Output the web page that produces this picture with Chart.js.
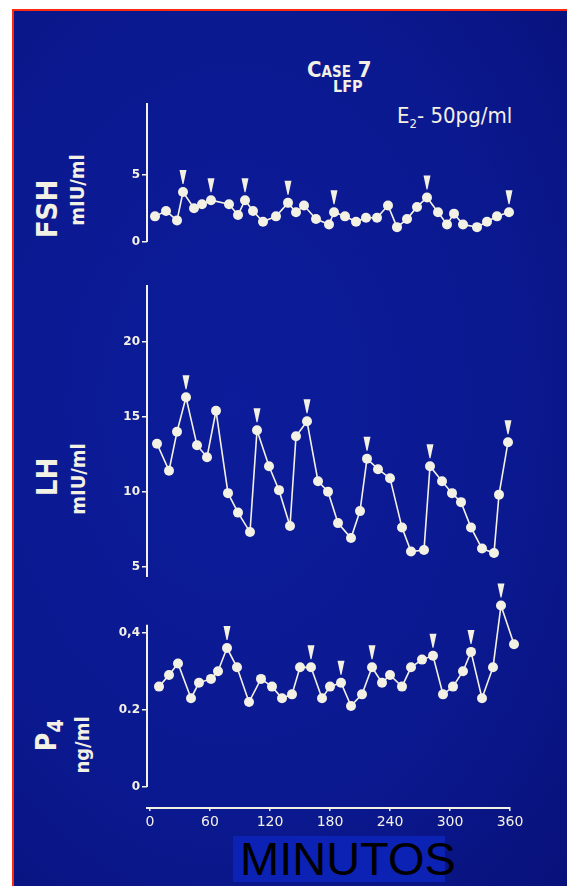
<!DOCTYPE html>
<html>
<head>
<meta charset="utf-8">
<script src="https://cdn.jsdelivr.net/npm/chart.js@4/dist/chart.umd.min.js"></script>
<style>
    html, body { margin: 0; padding: 0; background: #fff; }
    #page { position: relative; width: 567px; height: 886px; overflow: hidden; background: #fff; }
    #slide {
        position: absolute; left: 12px; top: 9px; right: 0; bottom: 0;
        border-top: 2px solid #ff2a10; border-left: 2px solid #ff2a10;
        background: radial-gradient(ellipse at 40% 45%, #0c1c9a 0%, #0b1990 60%, #08117a 100%);
    }
    canvas { position: absolute; left: 0; }
    .txt { position: absolute; color: #f3f0e4; font-family: "DejaVu Sans Condensed", "DejaVu Sans", sans-serif; font-weight: bold; white-space: nowrap; line-height: 1; }
    .rot { transform: translate(-50%, -50%) rotate(-90deg); }
    #minutos { position: absolute; left: 233px; top: 836px; width: 212px; height: 46px; background: #0b22b4; }
    #minutos span { position: absolute; left: 7px; top: 0px; font: 47px "Liberation Sans", Arial, sans-serif; color: #000; line-height: 46px; }
</style>
</head>
<body>
<div id="page">
    <div id="slide"></div>
    <div class="txt" style="left:307px; top:59px; font-size:22px; font-variant:small-caps;">Case 7</div>
    <div class="txt" style="left:333px; top:79px; font-size:16px;">LFP</div>
    <div class="txt" style="left:397px; top:105px; font-size:22px; font-weight:normal;">E<sub style="font-size:13px">2</sub>- 50pg/ml</div>

    <div class="txt rot" style="left:47px; top:209px; font-size:29px;">FSH</div>
    <div class="txt rot" style="left:77px; top:190px; font-size:20px;">mIU/ml</div>
    <div class="txt rot" style="left:47px; top:477px; font-size:29px;">LH</div>
    <div class="txt rot" style="left:78px; top:479px; font-size:20px;">mIU/ml</div>
    <div class="txt rot" style="left:50px; top:735px; font-size:28px;">P<sub style="font-size:22px">4</sub></div>
    <div class="txt rot" style="left:82px; top:745px; font-size:20px;">ng/ml</div>

    <canvas id="fsh" width="567" height="185" style="top:93px"></canvas>
    <canvas id="lh" width="567" height="338" style="top:275px"></canvas>
    <canvas id="p4" width="567" height="262" style="top:570px"></canvas>

    <div id="minutos"><span>MINUTOS</span></div>
</div>
<script>
    // sampling times (minutes) and values
    var fshMin = [5, 16, 27, 33, 44, 52, 61, 79, 88, 95, 103, 113, 126, 138, 146, 154, 166, 179, 184, 195, 206, 216, 227, 238, 247, 257, 267, 277, 288, 297, 304, 313, 327, 337, 347, 359]
    var fshVal = [1.9, 2.3, 1.6, 3.7, 2.5, 2.8, 3.1, 2.8, 2.0, 3.1, 2.3, 1.5, 1.9, 2.9, 2.2, 2.7, 1.7, 1.3, 2.2, 1.9, 1.5, 1.8, 1.8, 2.7, 1.1, 1.7, 2.6, 3.3, 2.2, 1.3, 2.1, 1.3, 1.1, 1.5, 1.9, 2.2]
    var fshPulse = [3, 6, 9, 13, 18, 27, 35]

    var lhMin = [7, 19, 27, 36, 47, 57, 66, 78, 88, 100, 107, 119, 129, 140, 146, 157, 168, 178, 188, 201, 210, 217, 228, 240, 252, 261, 274, 280, 292, 302, 311, 321, 332, 344, 349, 358]
    var lhVal = [13.2, 11.4, 14.0, 16.3, 13.1, 12.3, 15.4, 9.9, 8.6, 7.3, 14.1, 11.7, 10.1, 7.7, 13.7, 14.7, 10.7, 10.0, 7.9, 6.9, 8.7, 12.2, 11.5, 10.9, 7.6, 6.0, 6.1, 11.7, 10.7, 9.9, 9.3, 7.6, 6.2, 5.9, 9.8, 13.3]
    var lhPulse = [3, 10, 15, 21, 27, 35]

    var p4Min = [9, 19, 28, 41, 49, 61, 68, 77, 87, 99, 111, 122, 132, 142, 150, 161, 172, 180, 191, 201, 212, 222, 232, 240, 252, 261, 272, 283, 293, 303, 313, 321, 332, 343, 351, 364]
    var p4Val = [0.26, 0.29, 0.32, 0.23, 0.27, 0.28, 0.30, 0.36, 0.31, 0.22, 0.28, 0.26, 0.23, 0.24, 0.31, 0.31, 0.23, 0.26, 0.27, 0.21, 0.24, 0.31, 0.27, 0.29, 0.26, 0.31, 0.33, 0.34, 0.24, 0.26, 0.30, 0.35, 0.23, 0.31, 0.47, 0.37]
    var p4Pulse = [7, 15, 18, 21, 27, 31, 34]

    // tick labels
    var xTicks = [0, 60, 120, 180, 240, 300, 360]
    var fshTicks = [0, 5]
    var lhTicks = [5, 10, 15, 20]
    var p4Ticks = [0, 0.2, 0.4]
    var p4TickLabels = ['0', '0.2', '0,4']

    var ink = '#f3f0e4'

    // white axis line drawn only over part of the value range
    var axisLine = {
        id: 'axisLine',
        afterDraw(chart, args, opts) {
            var { ctx, chartArea } = chart
            var y = chart.scales.y
            ctx.save()
            ctx.strokeStyle = ink
            ctx.lineWidth = 2
            ctx.beginPath()
            ctx.moveTo(chartArea.left, y.getPixelForValue(opts.from))
            ctx.lineTo(chartArea.left, y.getPixelForValue(opts.to))
            ctx.stroke()
            ctx.restore()
        }
    }

    // little wedges above the detected pulses
    var pulseMarks = {
        id: 'pulseMarks',
        afterDatasetsDraw(chart, args, opts) {
            var { ctx } = chart
            var meta = chart.getDatasetMeta(0)
            ctx.save()
            ctx.fillStyle = ink
            opts.index.forEach(function(i) {
                var p = meta.data[i]
                ctx.beginPath()
                ctx.moveTo(p.x - 3.5, p.y - 22)
                ctx.lineTo(p.x + 3.5, p.y - 22)
                ctx.lineTo(p.x + 0.5, p.y - 8)
                ctx.lineTo(p.x - 0.5, p.y - 8)
                ctx.closePath()
                ctx.fill()
            })
            ctx.restore()
        }
    }

    function points(mins, vals) {
        return mins.map(function(m, i) { return { x: m, y: vals[i] } })
    }

    function makeChart(id, o) {
        var el = document.getElementById(id)
        var chart = {
            type: 'line',
            data: {
                datasets: [
                    {
                        data: points(o.mins, o.vals),
                        borderColor: ink,
                        borderWidth: 1.6,
                        pointRadius: 5,
                        pointBackgroundColor: ink,
                        pointBorderWidth: 0,
                        tension: 0,
                        clip: false
                    }
                ]
            },
            options: {
                animation: false,
                responsive: false,
                events: [],
                layout: { padding: { top: o.padTop, right: 57, bottom: o.padBottom, left: 0 } },
                plugins: {
                    legend: { display: false },
                    tooltip: { enabled: false },
                    axisLine: { from: o.lineFrom, to: o.lineTo },
                    pulseMarks: { index: o.pulse }
                },
                scales: {
                    x: {
                        type: 'linear',
                        min: -3,
                        max: 360,
                        display: o.showX,
                        afterBuildTicks(scale) { scale.ticks = xTicks.map(function(v) { return { value: v } }) },
                        afterFit(scale) { scale.height = 24 },
                        border: { display: true, color: ink, width: 2 },
                        grid: { drawOnChartArea: false, color: ink, tickLength: 3, lineWidth: 1.5 },
                        ticks: { color: ink, padding: 3, maxRotation: 0, font: { family: 'DejaVu Sans', size: 14 } }
                    },
                    y: {
                        min: o.min,
                        max: o.max,
                        afterBuildTicks(scale) { scale.ticks = o.ticks.map(function(v) { return { value: v } }) },
                        afterFit(scale) { scale.width = 147 },
                        border: { display: false },
                        grid: { drawOnChartArea: false, color: ink, tickLength: 5, lineWidth: 1.5 },
                        ticks: {
                            color: ink,
                            padding: 2,
                            font: { family: 'DejaVu Sans', size: 12, weight: 'bold' },
                            callback: o.label || function(v) { return String(v) }
                        }
                    }
                }
            },
            plugins: [axisLine, pulseMarks]
        }
        return new Chart(el, chart)
    }

    makeChart('fsh', {
        mins: fshMin, vals: fshVal, pulse: fshPulse, ticks: fshTicks,
        min: 0, max: 10.3, lineFrom: 0, lineTo: 10.3,
        padTop: 10, padBottom: 12, showX: false
    })

    makeChart('lh', {
        mins: lhMin, vals: lhVal, pulse: lhPulse, ticks: lhTicks,
        min: 4.3, max: 23.8, lineFrom: 4.3, lineTo: 23.8,
        padTop: 10, padBottom: 12, showX: false
    })

    makeChart('p4', {
        mins: p4Min, vals: p4Val, pulse: p4Pulse, ticks: p4Ticks,
        min: -0.0545, max: 0.5, lineFrom: 0, lineTo: 0.42,
        padTop: 24, padBottom: 0, showX: true,
        label: function(v) { return p4TickLabels[p4Ticks.indexOf(v)] }
    })
</script>
</body>
</html>
